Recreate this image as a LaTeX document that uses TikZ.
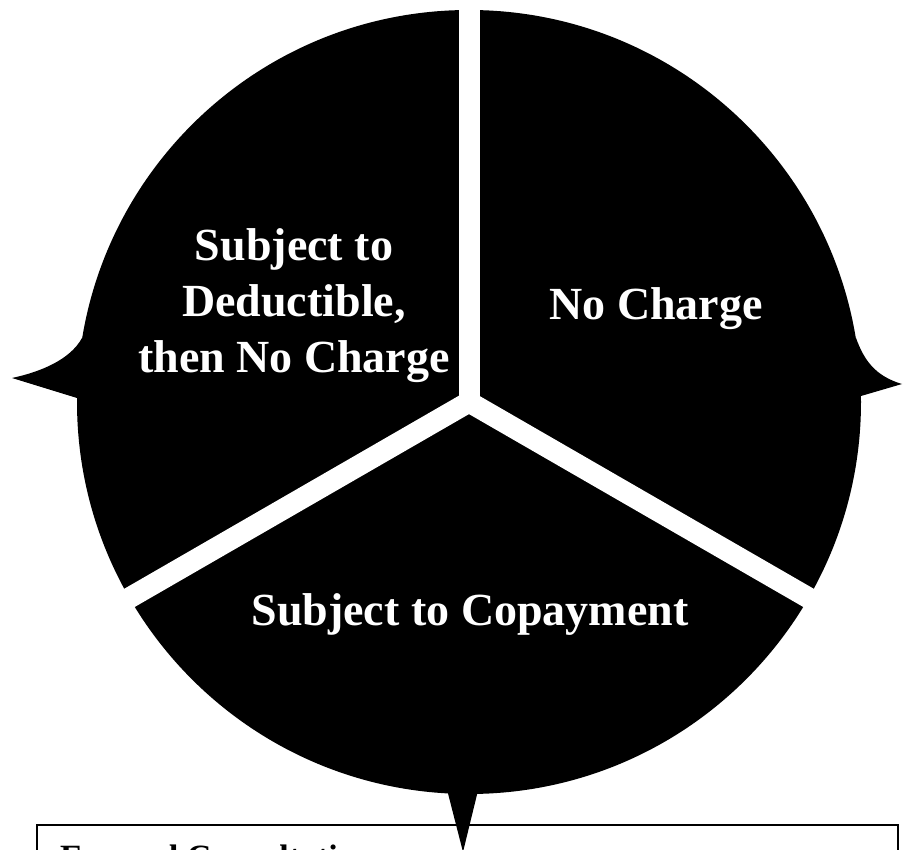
\documentclass[tikz,border=0pt]{standalone}
\usepackage{fontspec}
\setmainfont{Liberation Serif}
\tikzset{
  gap/.style={draw=white,line width=21pt},
  sectorlabel/.style={text=white,font=\bfseries\fontsize{46}{56}\selectfont,align=center,inner sep=0pt},
  boxlabel/.style={font=\bfseries\fontsize{34}{40}\selectfont,inner sep=0pt}
}
\begin{document}
\begin{tikzpicture}[x=1pt,y=-1pt]
\useasboundingbox (0,0) rectangle (903,850);
\clip (0,0) rectangle (903,850);
\coordinate (hub) at (469,402);
\fill (hub) circle (392pt);
\fill (77,398) -- (12,378) .. controls (40,372) and (70,360) .. (82,338) -- (120,368) -- cycle;
\fill (861,396) -- (902,384) .. controls (875,376) and (864,360) .. (856,338) -- (820,368) -- cycle;
\draw[gap] (hub) -- (469,-10);
\draw[gap] (hub) -- (105,612);
\draw[gap] (hub) -- (833,612);
\node[sectorlabel,anchor=north] (deduct) at (294,228) {Subject to\\Deductible,\\then No Charge};
\node[sectorlabel,anchor=base] (nocharge) at (656,320) {No Charge};
\node[sectorlabel,anchor=base] (copay) at (470,625) {Subject to Copayment};
\draw[line width=2pt] (37,825) rectangle (898,900);
\node[boxlabel,anchor=base west] (eyecons) at (60,868) {Eye and Consultation};
\fill (442,770) -- (463,852) -- (483,770) -- cycle;
\end{tikzpicture}
\end{document}
